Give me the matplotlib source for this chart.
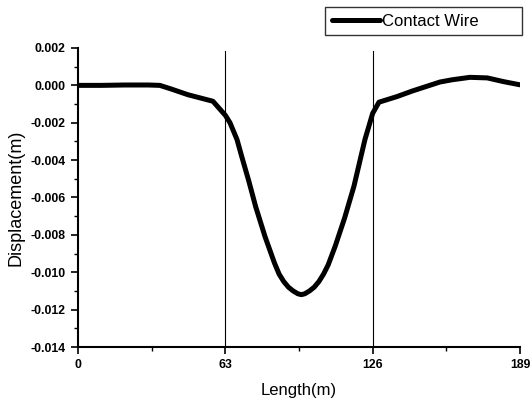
import numpy as np
import matplotlib
matplotlib.use("Agg")
import matplotlib.pyplot as plt
from matplotlib.ticker import MultipleLocator

plt.rcParams['font.family'] = ['Liberation Sans', 'DejaVu Sans']

# contact wire displacement along the span
length = [0, 10, 20, 30, 35, 40, 47, 57.7, 63, 65, 68, 70, 73, 76, 80, 84, 86,
          88, 90, 92, 94, 95.5, 97, 99, 101, 103, 105, 107, 110, 114, 118,
          122.7, 126, 128.7, 136.4, 143, 154.8, 160, 167.6, 175, 182, 189]
displacement = [0.0, 0.0, 0.00002, 0.00002, 0.0, -0.0002, -0.0005, -0.00085,
                -0.0016, -0.002, -0.0029, -0.0038, -0.0051, -0.0065, -0.0081,
                -0.0095, -0.0101, -0.0105, -0.0108, -0.0110, -0.01115, -0.0112,
                -0.01115, -0.0110, -0.0108, -0.0105, -0.0101, -0.0096, -0.0086,
                -0.0071, -0.0054, -0.0029, -0.0015, -0.0009, -0.0006, -0.0003,
                0.00018, 0.0003, 0.00043, 0.0004, 0.0002, 0.00003]
support_positions = [63, 126]
x_ticks = [0, 63, 126, 189]
y_ticks = [0.002, 0.000, -0.002, -0.004, -0.006, -0.008, -0.010, -0.012, -0.014]

W, H = 532, 400
fig = plt.figure(figsize=(W / 100, H / 100), dpi=100)
ax = fig.add_axes([0.1466, 0.1325, 0.8308, 0.7475])

line, = ax.plot(length, displacement, color='black', lw=3.6,
                solid_joinstyle='round', solid_capstyle='round', label='Contact Wire')
for pos in support_positions:
    ax.axvline(pos, ymin=0, ymax=0.99, color='black', lw=0.8)

ax.set_xlim(0, 189)
ax.set_ylim(-0.014, 0.002)
ax.set_xticks(x_ticks)
ax.set_xticklabels([str(t) for t in x_ticks])
ax.set_yticks(y_ticks)
ax.set_yticklabels(['%.3f' % t for t in y_ticks])
ax.xaxis.set_minor_locator(MultipleLocator(31.5))
ax.yaxis.set_minor_locator(MultipleLocator(0.001))

for side in ['top', 'right']:
    ax.spines[side].set_visible(False)
for side in ['left', 'bottom']:
    ax.spines[side].set_linewidth(1.5)

ax.tick_params(which='major', direction='out', length=5, width=1.2, labelsize=8.8, pad=4)
ax.tick_params(which='minor', direction='out', length=3, width=1.0)
for lbl in ax.get_xticklabels() + ax.get_yticklabels():
    lbl.set_fontweight('bold')

ax.set_xlabel('Length(m)', fontsize=12, labelpad=8)
ax.set_ylabel('Displacement(m)', fontsize=13, labelpad=4)

# legend box stretched over a fixed strip above the plot
leg = fig.legend(handles=[line], loc='upper left', mode='expand',
                 bbox_to_anchor=(325 / W, 1 - 33 / H, 197 / W, 26 / H),
                 fontsize=12, frameon=True, fancybox=False, handlelength=2.9,
                 handletextpad=0.15, borderpad=0.4, borderaxespad=0)
leg.get_frame().set_edgecolor('black')
leg.get_frame().set_linewidth(1.0)

fig.savefig('out.png', dpi=100)
